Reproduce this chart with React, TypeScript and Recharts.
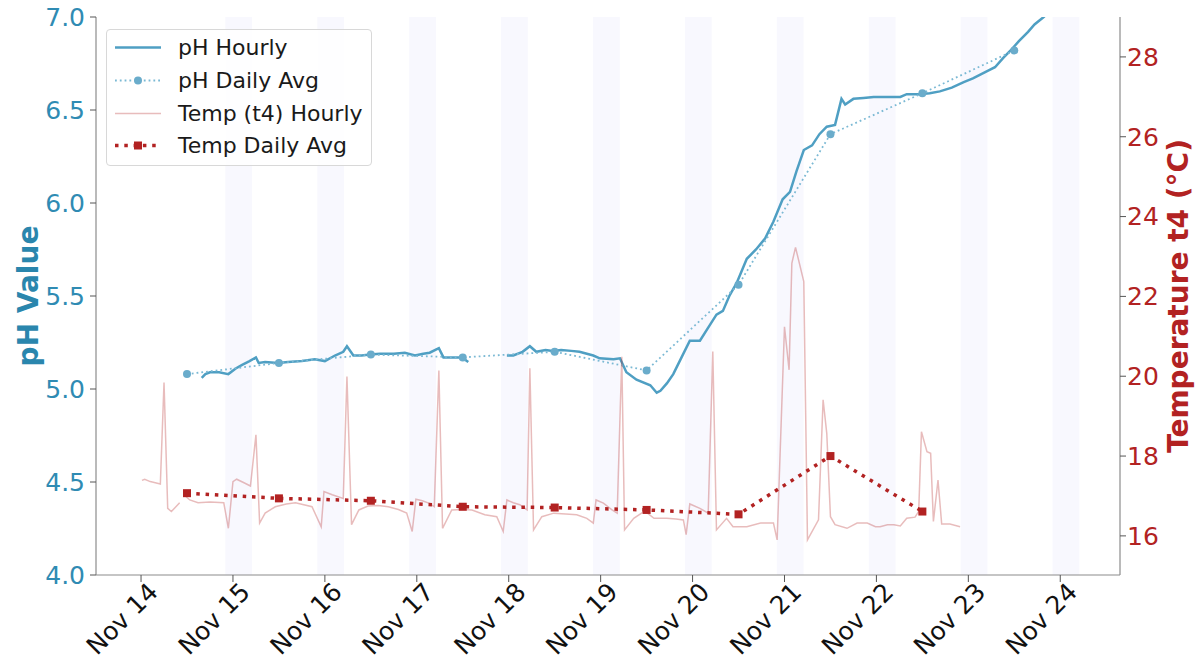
// PhTempChart.tsx
import React from 'react';
import {
  ComposedChart,
  Line,
  XAxis,
  YAxis,
  ReferenceArea
} from 'recharts';

// Data (x values are day-of-month in Nov, fractional = time of day)
const dayTicks = [14, 15, 16, 17, 18, 19, 20, 21, 22, 23, 24];
const phTicks = [4.0, 4.5, 5.0, 5.5, 6.0, 6.5, 7.0];
const tempTicks = [16, 18, 20, 22, 24, 26, 28];

// night bands (22:00 -> 05:00)
const nightStarts = [14.917, 15.917, 16.917, 17.917, 18.917, 19.917, 20.917, 21.917, 22.917, 23.917];
const nightEnds = [15.208, 16.208, 17.208, 18.208, 19.208, 20.208, 21.208, 22.208, 23.208, 24.208];

const phHourlyDays = [
  14.66, 14.70, 14.75, 14.85, 14.95, 15.03, 15.10, 15.18, 15.25, 15.28, 15.35, 15.49, 15.60, 15.75, 15.89,
  16.00, 16.11, 16.20, 16.24, 16.31, 16.40, 16.49, 16.60, 16.75, 16.87, 16.98, 17.07, 17.14, 17.24, 17.29,
  17.40, 17.49, 17.56, 17.77, 17.98, 18.05, 18.15, 18.23, 18.30, 18.40, 18.48, 18.57, 18.68, 18.77, 18.92,
  18.99, 19.14, 19.21, 19.28, 19.39, 19.54, 19.61, 19.65, 19.72, 19.79, 19.88, 19.97, 20.08, 20.17, 20.26,
  20.33, 20.40, 20.48, 20.59, 20.69, 20.79, 20.88, 20.98, 21.06, 21.13, 21.21, 21.30, 21.38, 21.46, 21.55,
  21.62, 21.66, 21.75, 21.86, 21.97, 22.10, 22.26, 22.33, 22.46, 22.58, 22.69, 22.82, 22.95, 23.05, 23.13,
  23.21, 23.29, 23.38, 23.46, 23.55, 23.65, 23.72, 23.82, 23.95
];
const phHourlyValues = [
  5.06, 5.08, 5.09, 5.09, 5.08, 5.11, 5.13, 5.15, 5.17, 5.14, 5.145, 5.14, 5.145, 5.15, 5.16,
  5.15, 5.18, 5.20, 5.23, 5.18, 5.18, 5.185, 5.19, 5.19, 5.195, 5.18, 5.19, 5.195, 5.22, 5.17,
  5.17, 5.17, 5.145, null, 5.18, 5.18, 5.20, 5.23, 5.20, 5.21, 5.205, 5.21, 5.205, 5.20, 5.18,
  5.165, 5.16, 5.165, 5.09, 5.05, 5.02, 4.98, 4.99, 5.03, 5.08, 5.17, 5.26, 5.26, 5.33, 5.40,
  5.42, 5.50, 5.57, 5.70, 5.75, 5.81, 5.90, 6.02, 6.06, 6.17, 6.285, 6.31, 6.37, 6.41, 6.42,
  6.56, 6.53, 6.56, 6.565, 6.57, 6.57, 6.57, 6.585, 6.585, 6.59, 6.60, 6.62, 6.65, 6.67, 6.69,
  6.71, 6.73, 6.78, 6.82, 6.87, 6.92, 6.96, 7.00, 7.06
];

const dailyDays = [14.5, 15.5, 16.5, 17.5, 18.5, 19.5, 20.5, 21.5, 22.5, 23.5];
const phDailyValues = [5.08, 5.14, 5.185, 5.17, 5.20, 5.10, 5.56, 6.37, 6.59, 6.82];
const tempDailyValues = [17.07, 16.94, 16.88, 16.73, 16.71, 16.65, 16.54, 18.0, 16.61];

const tempHourlyDays = [
  14.01, 14.04, 14.10, 14.21, 14.25, 14.29, 14.33, 14.42, 14.45, 14.49, 14.53, 14.62, 14.75, 14.90, 14.95,
  15.00, 15.04, 15.12, 15.19, 15.25, 15.29, 15.35, 15.46, 15.58, 15.68, 15.86, 15.96, 15.99, 16.08, 16.20,
  16.24, 16.29, 16.37, 16.47, 16.58, 16.69, 16.80, 16.89, 16.95, 16.99, 17.06, 17.13, 17.19, 17.24, 17.28,
  17.38, 17.50, 17.60, 17.74, 17.87, 17.94, 17.98, 18.05, 18.12, 18.20, 18.23, 18.27, 18.36, 18.49, 18.62,
  18.74, 18.85, 18.92, 18.95, 19.03, 19.12, 19.18, 19.23, 19.26, 19.36, 19.47, 19.52, 19.58, 19.72, 19.82,
  19.90, 19.93, 19.97, 20.08, 20.17, 20.22, 20.26, 20.37, 20.44, 20.50, 20.59, 20.74, 20.88, 20.92, 21.00,
  21.05, 21.08, 21.12, 21.21, 21.25, 21.37, 21.42, 21.46, 21.50, 21.55, 21.68, 21.79, 21.90, 21.99, 22.04,
  22.12, 22.19, 22.26, 22.33, 22.42, 22.46, 22.49, 22.55, 22.59, 22.62, 22.67, 22.71, 22.80, 22.91
];
const tempHourlyValues = [
  17.39, 17.42, 17.36, 17.30, 19.84, 16.69, 16.61, 16.83, null, 16.98, 16.90, 16.83, 16.85, 16.83, 16.19,
  17.36, 17.42, 17.33, 17.25, 18.53, 16.32, 16.57, 16.73, 16.80, 16.83, 16.73, 16.23, 17.11, 17.03, 16.94,
  19.99, 16.28, 16.65, 16.75, 16.76, 16.73, 16.66, 16.57, 16.11, 16.92, 16.88, 16.82, 16.73, 20.14, 16.19,
  16.65, 16.66, 16.65, 16.53, 16.48, 16.11, 16.90, 16.83, 16.78, 16.65, 20.20, 16.15, 16.48, 16.57, 16.55,
  16.53, 16.44, 16.32, 16.90, 16.82, 16.66, 16.57, 20.49, 16.15, 16.44, 16.61, 16.55, 16.44, 16.44, 16.42,
  16.40, 16.03, 16.80, 16.69, 16.57, 20.62, 16.15, 16.44, 16.23, 16.23, 16.23, 16.32, 16.32, 15.90, 21.24,
  20.16, 22.83, 23.23, 22.37, 15.90, 16.40, 19.41, 18.57, 16.48, 16.28, 16.19, 16.32, 16.32, 16.23, 16.23,
  16.28, 16.28, 16.25, 16.44, 16.47, 16.61, 18.61, 18.11, 18.07, 16.36, 17.40, 16.30, 16.30, 16.23
];

// Colors
const PH_COLOR = '#4f9fc3';
const PH_AVG_COLOR = '#7bb9d4';
const PH_TEXT = '#2f8bb3';
const TEMP_COLOR = '#b22222';
const SPINE = '#8c8c8c';
const FONT = 'DejaVu Sans, Verdana, sans-serif';

const toPoints = (days: number[], values: (number | null)[]) =>
  days.map((d, i) => ({ day: d, v: values[i] }));

const phHourly = toPoints(phHourlyDays, phHourlyValues);
const phDaily = toPoints(dailyDays, phDailyValues);
const tempHourly = toPoints(tempHourlyDays, tempHourlyValues);
const tempDaily = toPoints(dailyDays.slice(0, tempDailyValues.length), tempDailyValues);

const monthTick = (props: any) => {
  const { x, y, payload } = props;
  return (
    <g transform={`translate(${x + 6},${y - 3})`}>
      <text
        x={0}
        y={0}
        dy="0.71em"
        textAnchor="end"
        transform="rotate(-45)"
        fill="#111"
        fontSize={25}
        fontFamily={FONT}
      >
        {`Nov ${payload.value}`}
      </text>
    </g>
  );
};

const squareDot = (props: any) => {
  const { cx, cy, index } = props;
  if (cx == null || cy == null) return <g key={`sq-${index}`} />;
  return <rect key={`sq-${index}`} x={cx - 4} y={cy - 4} width={8} height={8} fill={TEMP_COLOR} />;
};

// Legend
const legendItems = [
  { label: 'pH Hourly', color: PH_COLOR, width: 2.5, dash: undefined, marker: 'none' },
  { label: 'pH Daily Avg', color: PH_AVG_COLOR, width: 1.8, dash: '1.8 3', marker: 'circle' },
  { label: 'Temp (t4) Hourly', color: TEMP_COLOR, width: 1.5, dash: undefined, marker: 'none', opacity: 0.3 },
  { label: 'Temp Daily Avg', color: TEMP_COLOR, width: 3.5, dash: '3.5 5.8', marker: 'square' }
];

const LegendBox: React.FC = () => (
  <div style={{
    position: 'absolute',
    left: 106,
    top: 29,
    width: 266,
    height: 137,
    boxSizing: 'border-box',
    border: '1px solid #d8d8d8',
    borderRadius: 4,
    background: 'rgba(255,255,255,0.85)',
    fontFamily: FONT,
    fontSize: 22,
    color: '#1a1a1a'
  }}>
    {legendItems.map((item, i) => (
      <div key={item.label} style={{ position: 'absolute', left: 0, top: 1 + i * 32.8, height: 33, display: 'flex', alignItems: 'center' }}>
        <svg width={60} height={33} style={{ marginLeft: 4 }}>
          <line x1={4} y1={16.5} x2={50} y2={16.5} stroke={item.color} strokeWidth={item.width}
            strokeDasharray={item.dash} strokeOpacity={item.opacity ?? 1} />
          {item.marker === 'circle' && <circle cx={27} cy={16.5} r={4} fill="#6aaccb" />}
          {item.marker === 'square' && <rect x={23} y={12.5} width={8} height={8} fill={TEMP_COLOR} />}
        </svg>
        <span style={{ marginLeft: 7, whiteSpace: 'nowrap' }}>{item.label}</span>
      </div>
    ))}
  </div>
);

const PhTempChart: React.FC = () => (
  <div style={{ position: 'absolute', left: 0, top: 0, width: 1197, height: 661, background: '#fff' }}>
    <ComposedChart width={1197} height={661} margin={{ top: 17, right: 0, bottom: 0, left: 0 }}>
      {nightStarts.map((s, i) => (
        <ReferenceArea key={`night-${i}`} xAxisId="main" yAxisId="ph" x1={s} x2={nightEnds[i]}
          fill="#f8f8fe" fillOpacity={1} stroke="none" ifOverflow="hidden" />
      ))}
      <XAxis
        xAxisId="main"
        dataKey="day"
        type="number"
        domain={[13.51, 24.65]}
        allowDataOverflow
        ticks={dayTicks}
        tick={monthTick}
        tickSize={7}
        tickMargin={2}
        height={86}
        interval={0}
        stroke={SPINE}
        tickLine={{ stroke: '#555' }}
        axisLine={{ stroke: SPINE, strokeWidth: 1.2 }}
      />
      <XAxis
        xAxisId="top"
        orientation="top"
        type="number"
        domain={[13.51, 24.65]}
        height={0}
        tick={false}
        tickLine={false}
        axisLine={{ stroke: SPINE, strokeWidth: 1.2 }}
      />
      <YAxis
        yAxisId="ph"
        orientation="left"
        type="number"
        domain={[4, 7]}
        allowDataOverflow
        ticks={phTicks}
        tickFormatter={(v: number) => v.toFixed(1)}
        width={96}
        tickSize={6}
        tickMargin={5}
        tick={{ fill: PH_TEXT, fontSize: 25, fontFamily: FONT }}
        tickLine={{ stroke: '#555' }}
        axisLine={{ stroke: SPINE, strokeWidth: 1.2 }}
        label={{
          value: 'pH Value',
          angle: -90,
          position: 'insideLeft',
          offset: 28,
          style: { textAnchor: 'middle', fill: '#2a86ad', fontSize: 28, fontWeight: 'bold', fontFamily: FONT }
        }}
      />
      <YAxis
        yAxisId="temp"
        orientation="right"
        type="number"
        domain={[15.02, 29.0]}
        allowDataOverflow
        ticks={tempTicks}
        width={77}
        tickSize={6}
        tickMargin={1}
        tick={{ fill: TEMP_COLOR, fontSize: 25, fontFamily: FONT }}
        tickLine={{ stroke: '#555' }}
        axisLine={{ stroke: SPINE, strokeWidth: 1.2 }}
        label={{
          value: 'Temperature t4 (°C)',
          angle: -90,
          position: 'insideRight',
          offset: 19,
          style: { textAnchor: 'middle', fill: TEMP_COLOR, fontSize: 28, fontWeight: 'bold', fontFamily: FONT }
        }}
      />
      <Line
        xAxisId="main"
        yAxisId="ph"
        data={phHourly}
        dataKey="v"
        type="linear"
        stroke={PH_COLOR}
        strokeWidth={2.5}
        dot={false}
        isAnimationActive={false}
      />
      <Line
        xAxisId="main"
        yAxisId="ph"
        data={phDaily}
        dataKey="v"
        type="linear"
        stroke={PH_AVG_COLOR}
        strokeWidth={1.8}
        strokeDasharray="1.8 3"
        dot={{ r: 4, fill: '#6aaccb', stroke: 'none', strokeWidth: 0 }}
        isAnimationActive={false}
      />
      <Line
        xAxisId="main"
        yAxisId="temp"
        data={tempHourly}
        dataKey="v"
        type="linear"
        stroke={TEMP_COLOR}
        strokeOpacity={0.3}
        strokeWidth={1.5}
        dot={false}
        isAnimationActive={false}
      />
      <Line
        xAxisId="main"
        yAxisId="temp"
        data={tempDaily}
        dataKey="v"
        type="linear"
        stroke={TEMP_COLOR}
        strokeWidth={3.5}
        strokeDasharray="3.5 5.8"
        dot={squareDot}
        isAnimationActive={false}
      />
    </ComposedChart>
    <LegendBox />
  </div>
);

export default PhTempChart;
